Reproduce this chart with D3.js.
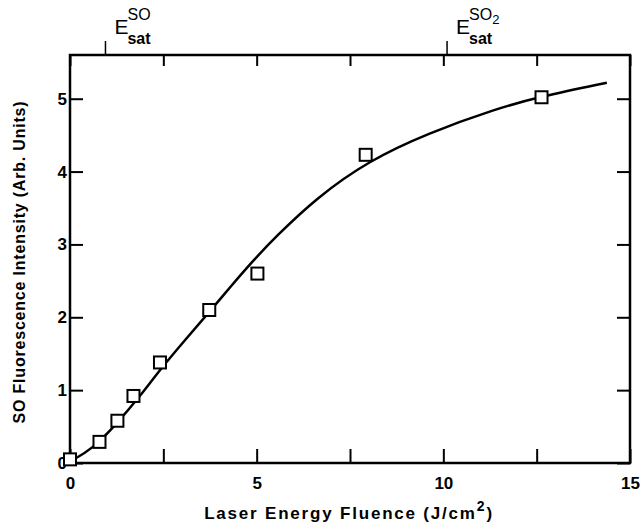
<!DOCTYPE html>
<html>
<head>
<meta charset="utf-8">
<script src="https://cdn.jsdelivr.net/npm/d3@7"></script>
<style>
    body { margin: 0; background: #fff; }
    svg { display: block; }
    text { font-family: 'Liberation Sans', Arial, sans-serif; fill: #000; }
</style>
</head>
<body>
<script>
const width = 642,
    height = 524;

// measured points
const fluence = [0, 0.79, 1.27, 1.70, 2.41, 3.73, 5.02, 7.92, 12.63];
const intensity = [0.05, 0.29, 0.58, 0.92, 1.38, 2.10, 2.60, 4.23, 5.02];

// fitted curve
const fit_x = [0, 0.6, 1.27, 1.88, 2.41, 3.1, 3.73, 4.3, 4.91, 5.5, 6.6, 8.0, 9.6, 11.4, 12.6, 14.38];
const fit_y = [0.02, 0.19, 0.55, 0.92, 1.28, 1.7, 2.07, 2.42, 2.78, 3.1, 3.64, 4.15, 4.53, 4.86, 5.03, 5.22];

// saturation fluence markers on the top axis
const sat_species = ['SO', 'SO2'];
const sat_fluence = [0.95, 10.1];

const x_ticks = [0, 2.5, 5, 7.5, 10, 12.5, 15];
const y_ticks = [0, 1, 2, 3, 4, 5];

const x = d3.scaleLinear().domain([0, 15]).range([70, 630]);
const y = d3.scaleLinear().domain([0, 5.6]).range([463, 55]);

const svg = d3.select('body')
    .append('svg')
    .attr('width', width)
    .attr('height', height);

const fmt = d => (d % 5 === 0 ? d3.format('d')(d) : '');

// bottom axis: ticks point inward
const axis_bottom = svg.append('g')
    .attr('transform', 'translate(0,' + y(0) + ')')
    .call(d3.axisBottom(x).tickValues(x_ticks).tickSize(-14).tickPadding(26).tickFormat(fmt));

// top axis
const axis_top = svg.append('g')
    .attr('transform', 'translate(0,' + y(5.6) + ')')
    .call(d3.axisTop(x).tickValues(x_ticks).tickSize(-11).tickFormat(''));

// left axis
const axis_left = svg.append('g')
    .attr('transform', 'translate(' + x(0) + ',0)')
    .call(d3.axisLeft(y).tickValues(y_ticks).tickSize(-13).tickPadding(3).tickFormat(d3.format('d')));

// right axis
const axis_right = svg.append('g')
    .attr('transform', 'translate(' + x(15) + ',0)')
    .call(d3.axisRight(y).tickValues(y_ticks).tickSize(-13).tickFormat(''));

[axis_bottom, axis_top, axis_left, axis_right].forEach(function (g) {
    g.select('.domain').remove();
    g.selectAll('.tick line').attr('stroke', '#000').attr('stroke-width', 2);
    g.selectAll('.tick text')
        .style('font-size', '17px')
        .style('font-weight', 'bold');
});
axis_bottom.selectAll('.tick text').attr('dy', 0);

// frame
svg.append('rect')
    .attr('x', x(0))
    .attr('y', y(5.6))
    .attr('width', x(15) - x(0))
    .attr('height', y(0) - y(5.6))
    .attr('fill', 'none')
    .attr('stroke', '#000')
    .attr('stroke-width', 2.5);

// saturation markers
sat_species.forEach(function (sp, i) {
    const px = x(sat_fluence[i]);
    svg.append('line')
        .attr('x1', px).attr('x2', px)
        .attr('y1', y(5.6)).attr('y2', y(5.6) - 14)
        .attr('stroke', '#000')
        .attr('stroke-width', 1.5);

    svg.append('text')
        .attr('x', px + 9)
        .attr('y', 34)
        .style('font-size', '21px')
        .text('E');

    const sup = svg.append('text')
        .attr('x', px + 22)
        .attr('y', 20)
        .style('font-size', '16px');
    sup.append('tspan').text('SO');
    if (sp === 'SO2') {
        sup.append('tspan')
            .attr('dy', 4)
            .style('font-size', '13px')
            .text('2');
    }

    svg.append('text')
        .attr('x', px + 22)
        .attr('y', 44)
        .style('font-size', '16px')
        .style('font-weight', 'bold')
        .text('sat');
});

// fitted curve
const fit = fit_x.map((d, i) => [d, fit_y[i]]);
svg.append('path')
    .datum(fit)
    .attr('d', d3.line()
        .x(d => x(d[0]))
        .y(d => y(d[1]))
        .curve(d3.curveBasis))
    .attr('fill', 'none')
    .attr('stroke', '#000')
    .attr('stroke-width', 2.5);

// data squares
const s = 12;
svg.append('g')
    .selectAll('rect')
    .data(fluence.map((d, i) => [d, intensity[i]]))
    .enter().append('rect')
    .attr('x', d => x(d[0]) - s / 2)
    .attr('y', d => y(d[1]) - s / 2)
    .attr('width', s)
    .attr('height', s)
    .attr('fill', '#fff')
    .attr('stroke', '#000')
    .attr('stroke-width', 2);

// axis titles
const xlab = svg.append('text')
    .attr('x', 349)
    .attr('y', 519)
    .attr('text-anchor', 'middle')
    .style('font-size', '17px')
    .style('font-weight', 'bold')
    .style('letter-spacing', '1.8px');
xlab.append('tspan').text('Laser Energy Fluence (J/cm');
xlab.append('tspan').attr('dy', -8).style('font-size', '14px').text('2');
xlab.append('tspan').attr('dy', 8).text(')');

svg.append('text')
    .attr('transform', 'translate(25,262) rotate(-90)')
    .attr('text-anchor', 'middle')
    .style('font-size', '16px')
    .style('font-weight', 'bold')
    .style('letter-spacing', '0.8px')
    .text('SO Fluorescence Intensity (Arb. Units)');
</script>
</body>
</html>
